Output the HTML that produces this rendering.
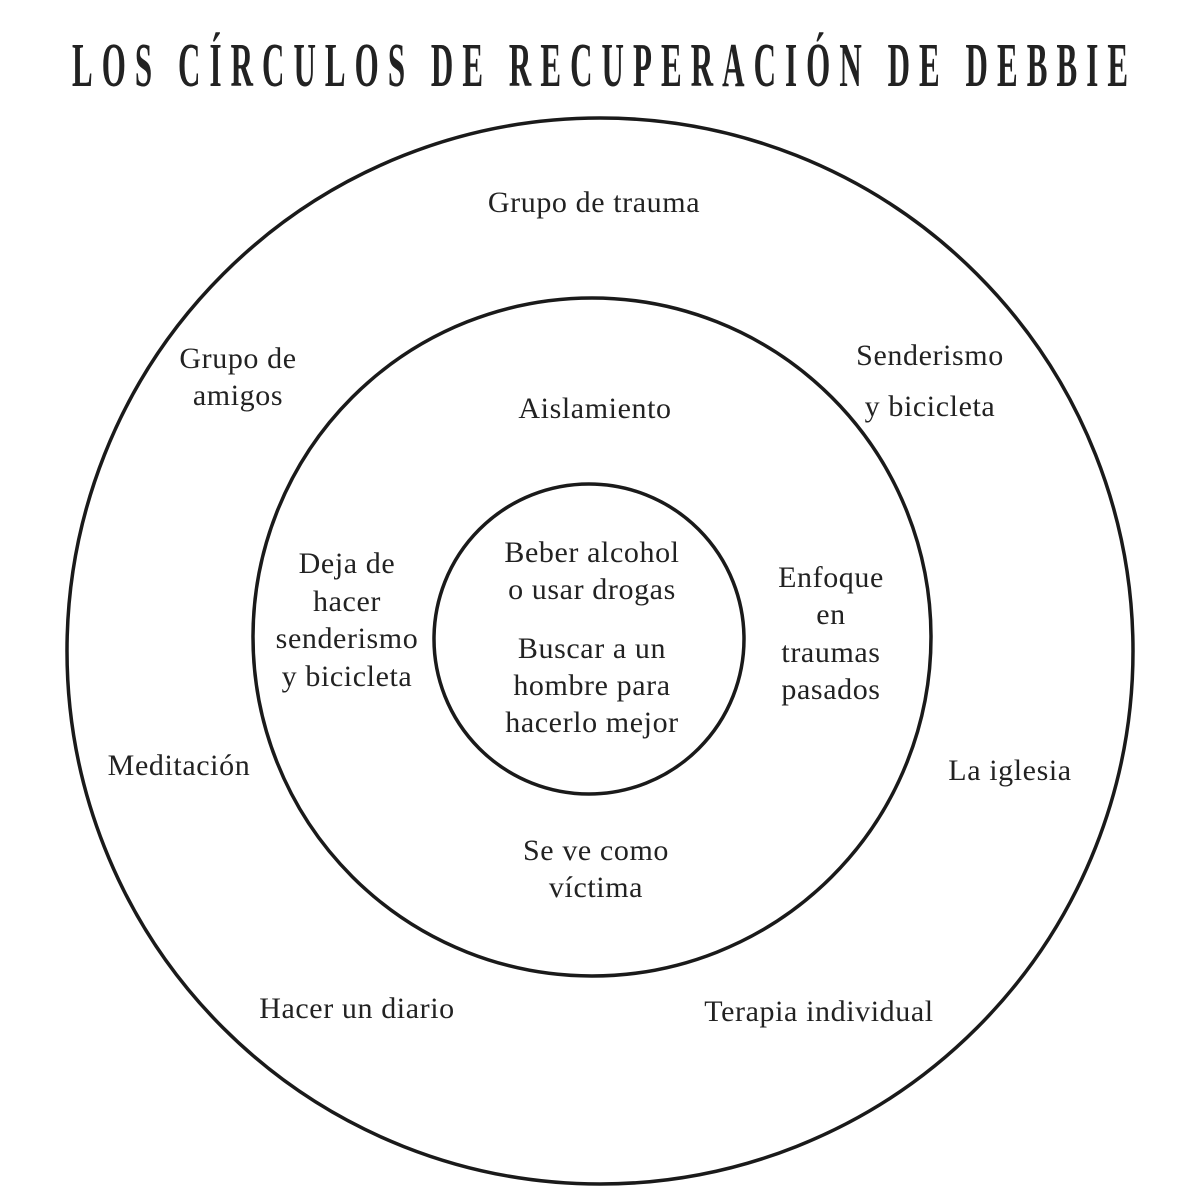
<!DOCTYPE html>
<html><head><meta charset="utf-8"><style>html,body{margin:0;padding:0;background:#fff}svg{display:block}</style></head>
<body>
<svg width="1201" height="1201" viewBox="0 0 1201 1201" xmlns="http://www.w3.org/2000/svg">
<rect width="1201" height="1201" fill="#fff"/>
<g transform="scale(0.5,1)">
<text x="144" y="86" font-family="Liberation Serif, serif" font-weight="bold" font-size="62" fill="#222" textLength="2112" lengthAdjust="spacing">LOS CÍRCULOS DE RECUPERACIÓN DE DEBBIE</text>
</g>
<g fill="none" stroke="#1a1a1a" stroke-width="3.5">
<circle cx="600" cy="651" r="533"/>
<circle cx="592" cy="637" r="339"/>
<circle cx="589" cy="639" r="155"/>
</g>
<g font-family="Liberation Serif, serif" font-size="30" fill="#222" text-anchor="middle" letter-spacing="0.6">
<text x="594" y="212">Grupo de trauma</text>
<text x="238" y="368">Grupo de</text><text x="238" y="405">amigos</text>
<text x="930" y="365">Senderismo</text><text x="930" y="416">y bicicleta</text>
<text x="595" y="418">Aislamiento</text>
<text x="347" y="573">Deja de</text><text x="347" y="611">hacer</text><text x="347" y="648">senderismo</text><text x="347" y="686">y bicicleta</text>
<text x="592" y="562">Beber alcohol</text><text x="592" y="599">o usar drogas</text>
<text x="592" y="658">Buscar a un</text><text x="592" y="695">hombre para</text><text x="592" y="732">hacerlo mejor</text>
<text x="831" y="587">Enfoque</text><text x="831" y="624">en</text><text x="831" y="662">traumas</text><text x="831" y="699">pasados</text>
<text x="179" y="775">Meditación</text>
<text x="1010" y="780">La iglesia</text>
<text x="596" y="860">Se ve como</text><text x="596" y="897">víctima</text>
<text x="357" y="1018">Hacer un diario</text>
<text x="819" y="1021">Terapia individual</text>
</g>
</svg>
</body></html>
